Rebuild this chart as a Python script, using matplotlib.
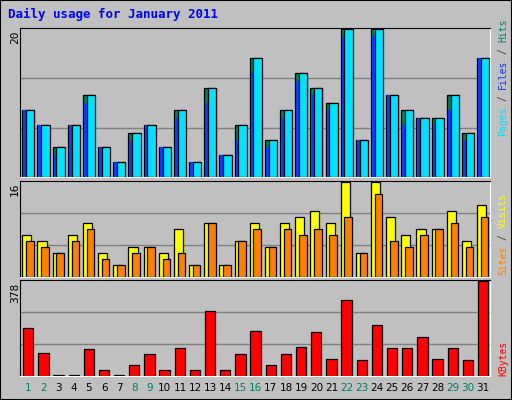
import matplotlib
matplotlib.use("Agg")
import matplotlib.pyplot as plt
import numpy as np

days = list(range(1, 32))
hits  = [9,7,4,7,11,4,2,6,7,4,9,2,12,3,7,16,5,9,14,12,10,20,5,20,11,9,8,8,11,6,16]
files = [9,7,3,7,10,4,2,5,7,4,8,2,10,3,5,14,4,8,13,11,9,19,5,19,11,7,8,7,9,5,16]
pages = hits
visits = [7,6,4,7,9,4,2,5,5,4,8,2,9,2,6,9,5,9,10,11,9,16,4,16,10,7,8,8,11,6,12]
sites  = [6,5,4,6,8,3,2,4,5,3,4,2,9,2,6,8,5,8,7,8,7,10,4,14,6,5,7,8,9,5,10]
kbytes = [190,90,3,3,107,24,3,44,86,24,111,24,257,24,86,178,44,86,115,174,69,299,65,203,111,111,153,69,111,65,378]
weekend = {1,2,8,9,15,16,22,23,29,30}

W, H = 512, 400
fig = plt.figure(figsize=(W/100, H/100), dpi=100, facecolor="#C0C0C0")
fig.patches.append(plt.Rectangle((0, 0), 1, 1, transform=fig.transFigure, fill=False,
                                 edgecolor="black", lw=1.5))
x = np.array(days)

def panel(y0, y1):
    ax = fig.add_axes([20/W, 1 - y1/H, 470/W, (y1 - y0)/H])
    ax.set_facecolor("#C0C0C0")
    ax.set_xlim(0.45, 31.45)
    ax.set_xticks([]); ax.set_yticks([])
    for s in ["left", "top"]:
        ax.spines[s].set_color("black")
    for s in ["right", "bottom"]:
        ax.spines[s].set_color("white")
    return ax

kw = dict(edgecolor="black", linewidth=0.9, align="edge")

ax1 = panel(28, 177)
ax1.set_ylim(0, 20.1)
for g in (20/3, 40/3):
    ax1.axhline(g, color="#808080", lw=1, zorder=0)
ax1.bar(x - 0.4, hits, width=0.75, color="#00805C", **kw)
ax1.bar(x - 0.33, files, width=0.3, color="#0040FF", linewidth=0, align="edge")
ax1.bar(x - 0.15, pages, width=0.55, color="#00E0FF", **kw)

ax2 = panel(181, 277)
ax2.set_ylim(0, 16.1)
for g in (16/3, 32/3):
    ax2.axhline(g, color="#808080", lw=1, zorder=0)
ax2.bar(x - 0.4, visits, width=0.6, color="#FFFF00", **kw)
ax2.bar(x - 0.15, sites, width=0.5, color="#FF8000", **kw)

ax3 = panel(280, 376)
ax3.set_ylim(0, 380)
for g in (378/3, 2*378/3):
    ax3.axhline(g, color="#808080", lw=1, zorder=0)
ax3.bar(x - 0.35, kbytes, width=0.68, color="#FF0000", **kw)

mono = "DejaVu Sans Mono"
fig.text(8/W, 1 - 14/H, "Daily usage for January 2011", color="#0000FF", fontsize=9,
         fontweight="bold", family=mono, va="center")
for ytop, lab in [(30, "20"), (183, "16"), (283, "378")]:
    fig.text(15/W, 1 - ytop/H, lab, rotation=90, fontsize=8, family=mono, ha="center", va="top")

STEP = 5.85
def rlabel(ybot, parts):
    y = ybot
    for txt, col in parts:
        s = txt.strip()
        lead = len(txt) - len(txt.lstrip())
        fig.text(503/W, 1 - (y - lead * STEP)/H, s, rotation=90, color=col, fontsize=7,
                 family=mono, ha="center", va="bottom")
        y -= len(txt) * STEP
rlabel(136, [("Pages", "#00E0FF"), (" /", "#404040"), (" Files", "#0040FF"), (" /", "#404040"), (" Hits", "#00805C")])
rlabel(275, [("Sites", "#FF8000"), (" /", "#404040"), (" Visits", "#FFFF00")])
rlabel(376, [("KBytes", "#FF0000")])

for d in days:
    xp = 20 + (d - 0.45) / 31.0 * 470
    fig.text(xp/W, 1 - 388/H, str(d), fontsize=7.5, ha="center", va="center",
             color="#00805C" if d in weekend else "black")

fig.savefig("out.png", dpi=100, facecolor=fig.get_facecolor())
